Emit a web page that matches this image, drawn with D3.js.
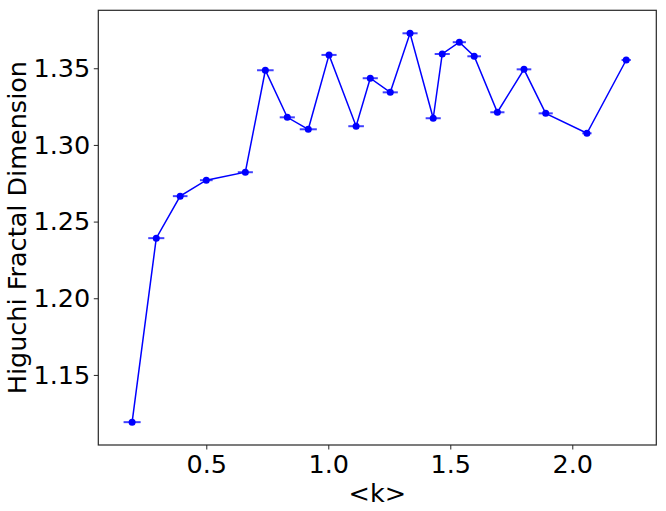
<!DOCTYPE html>
<html><head><meta charset="utf-8">
<script src="https://cdn.jsdelivr.net/npm/d3@7"></script>
<style>body{margin:0;background:#fff}svg{display:block}text{font-family:"DejaVu Sans",sans-serif}</style>
</head><body>
<script>
const kValues = [0.196,0.295,0.393,0.500,0.660,0.742,0.832,0.918,1.003,1.114,1.172,1.254,1.335,1.430,1.467,1.537,1.598,1.693,1.802,1.891,2.060,2.221];
const hfdValues = [1.1192,1.2392,1.2666,1.2770,1.2822,1.3487,1.3180,1.3102,1.3587,1.3122,1.3435,1.3343,1.3728,1.3174,1.3593,1.3670,1.3578,1.3213,1.3493,1.3206,1.3076,1.3554];
const kErrors = [0.035,0.033,0.030,0.026,0.031,0.034,0.031,0.035,0.031,0.032,0.031,0.031,0.031,0.031,0.031,0.027,0.028,0.029,0.030,0.029,0.019,0.019];
const xTicks = [0.5,1.0,1.5,2.0];
const yTicks = [1.15,1.20,1.25,1.30,1.35];

const W=666,H=511;
const L=98.3,R=656.3,T=10.3,B=445;
const FS=25.5;
const svg=d3.select("body").append("svg").attr("width",W).attr("height",H);
const x=d3.scaleLinear().domain([0.0574,2.3443]).range([L,R]);
const y=d3.scaleLinear().domain([1.1043,1.3878]).range([B,T]);

const data=kValues.map((k,i)=>({k,v:hfdValues[i],e:kErrors[i]}));

svg.append("g").selectAll("line").data(data).join("line")
  .attr("x1",d=>x(d.k-d.e)).attr("x2",d=>x(d.k+d.e))
  .attr("y1",d=>y(d.v)).attr("y2",d=>y(d.v))
  .attr("stroke","#0000ff").attr("stroke-opacity",0.75).attr("stroke-width",2);

svg.append("path").datum(data)
  .attr("d",d3.line().x(d=>x(d.k)).y(d=>y(d.v)))
  .attr("fill","none").attr("stroke","#0000ff").attr("stroke-width",1.5);

svg.append("g").selectAll("circle").data(data).join("circle")
  .attr("cx",d=>x(d.k)).attr("cy",d=>y(d.v)).attr("r",3.5).attr("fill","#0000ff");

const xAxis=svg.append("g").attr("transform",`translate(0,${B})`)
  .call(d3.axisBottom(x).tickValues(xTicks).tickFormat(d3.format(".1f")).tickSize(4.5).tickPadding(5.5));
const yAxis=svg.append("g").attr("transform",`translate(${L},0)`)
  .call(d3.axisLeft(y).tickValues(yTicks).tickFormat(d3.format(".2f")).tickSize(4.5).tickPadding(3.5));
[xAxis,yAxis].forEach(a=>{
  a.select(".domain").remove();
  a.selectAll("line").attr("stroke","#262626").attr("stroke-width",1);
  a.selectAll("text").attr("font-size",FS).attr("fill","#000").attr("font-family","DejaVu Sans");
});

svg.append("rect").attr("x",L).attr("y",T).attr("width",R-L).attr("height",B-T)
  .attr("fill","none").attr("stroke","#262626").attr("stroke-width",1.2);

svg.append("text").attr("x",(L+R)/2).attr("y",502).attr("text-anchor","middle")
  .attr("font-size",FS).text("<k>");
svg.append("text").attr("transform",`translate(25.5,${(T+B)/2}) rotate(-90)`)
  .attr("text-anchor","middle").attr("font-size",FS).text("Higuchi Fractal Dimension");
</script>
</body></html>
